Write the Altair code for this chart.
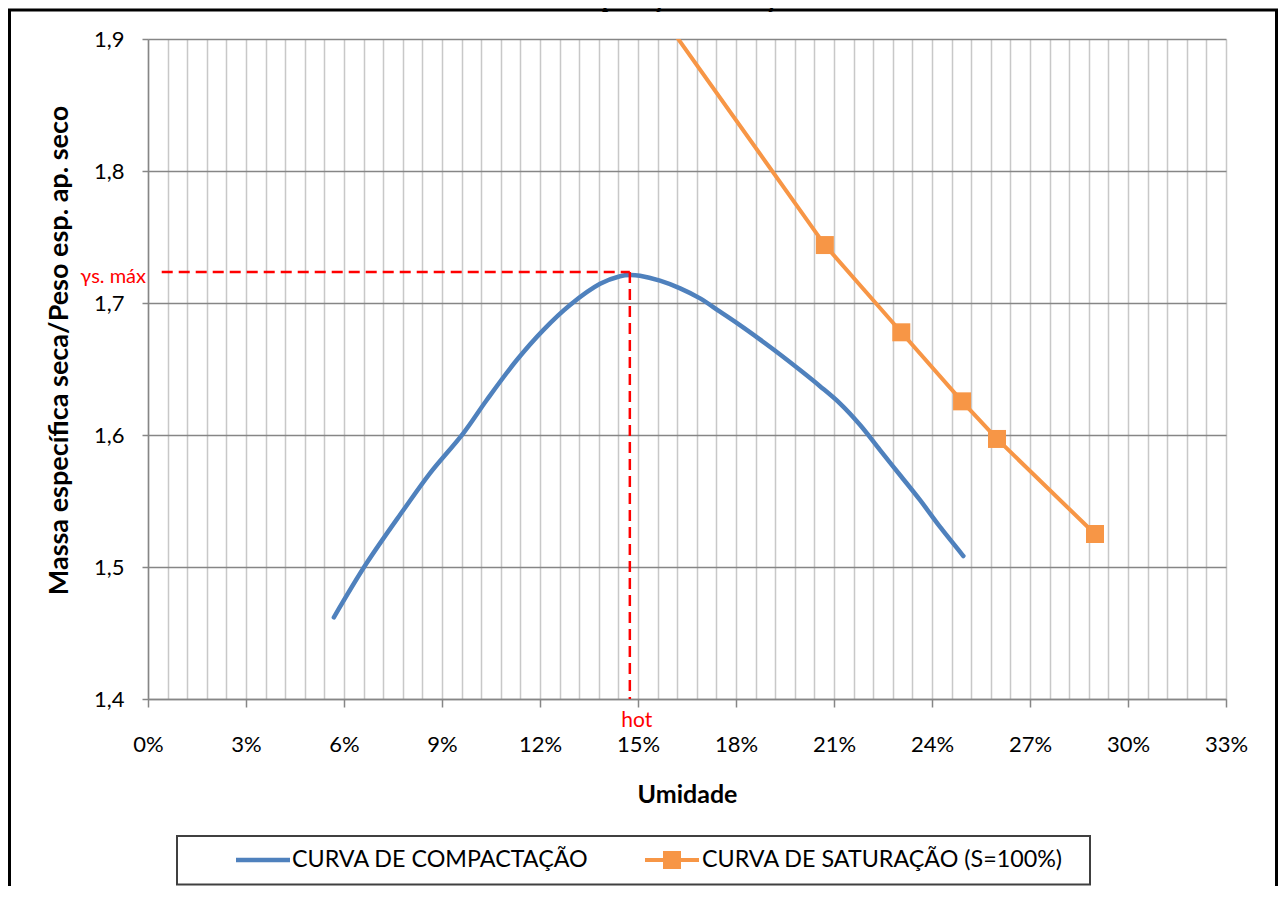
import altair as alt
import pandas as pd

# ---------------- data ----------------
# Curva de compactação: umidade (fração) e massa específica seca
comp_w = [0.0569, 0.0669, 0.0782, 0.0863, 0.0965, 0.1037, 0.1129, 0.1210,
          0.1292, 0.1384, 0.1445, 0.1476, 0.1506, 0.1567, 0.1629, 0.1690,
          0.1751, 0.1812, 0.1873, 0.1935, 0.1996, 0.2057, 0.2118, 0.2180,
          0.2241, 0.2302, 0.2363, 0.2424, 0.2496]
comp_g = [1.4619, 1.5028, 1.5432, 1.5710, 1.6013, 1.6265, 1.6568, 1.6795,
          1.6985, 1.7145, 1.7203, 1.7212, 1.7206, 1.7169, 1.7111, 1.7035,
          1.6934, 1.6832, 1.6724, 1.6610, 1.6492, 1.6370, 1.6240, 1.6076,
          1.5886, 1.5697, 1.5508, 1.5305, 1.5083]

# Curva de saturação (S=100%) - first point lies above the plotted range
sat_w = [0.135, 0.2072, 0.2306, 0.2492, 0.2599, 0.2899]
sat_g = [1.995, 1.7439, 1.6778, 1.6255, 1.5970, 1.5250]

# Ponto ótimo
hot = [0.1475]
ys_max = [1.7235]
ys_line_start = [0.0042]

x_grid_vals = [round(i * 0.006, 3) for i in range(56)]
y_tick_vals = [1.4, 1.5, 1.6, 1.7, 1.8, 1.9]

title_text = "Gráfico 13 – Curva de compactação e saturação - Ponto 2"
legend_labels = ["CURVA DE COMPACTAÇÃO", "CURVA DE SATURAÇÃO (S=100%)"]

BLUE = "#4F81BD"
ORANGE = "#F79646"
RED = "#FF0000"
FONT = "Lato"

comp_df = pd.DataFrame({"w": comp_w, "g": comp_g})
sat_df = pd.DataFrame({"w": sat_w, "g": sat_g})
opt_df = pd.DataFrame({"w0": ys_line_start, "w": hot, "g": ys_max, "gmin": [1.4]})
one = pd.DataFrame({"a": [0]})

x_scale = alt.Scale(domain=[0, 0.33], nice=False, zero=False)
y_scale = alt.Scale(domain=[1.4, 1.9], nice=False, zero=False)

major = "abs(round(datum.value * 1000) % 30) < 0.5"

x_axis = alt.Axis(
    values=x_grid_vals,
    tickCount=len(x_grid_vals) + 10,
    labelExpr=f"{major} ? format(datum.value, '.0%') : ''",
    labelOverlap=False, labelFlush=False,
    grid=True, gridColor="#c8c8c8", gridWidth=1.5,
    domainColor="#868686", domainWidth=1.5,
    tickColor="#868686", tickWidth=1.5, tickSize=8,
    tickOpacity={"condition": {"test": major, "value": 1}, "value": 0},
    labelFont=FONT, labelFontSize=22, labelColor="#000000", labelPadding=27,
    title="Umidade", titleFont=FONT, titleFontSize=25, titleFontWeight="bold",
    titleColor="#000000", titlePadding=27,
)
y_axis = alt.Axis(
    values=y_tick_vals,
    tickCount=len(y_tick_vals) + 2,
    labelExpr="replace(format(datum.value, '.1f'), '.', ',')",
    labelFlush=False,
    grid=True, gridColor="#868686", gridWidth=1.5,
    domainColor="#868686", domainWidth=1.5,
    tickColor="#868686", tickWidth=1.5, tickSize=6,
    labelFont=FONT, labelFontSize=22, labelColor="#000000", labelPadding=18,
    title="Massa específica seca/Peso esp. ap. seco", titleFont=FONT,
    titleFontSize=27, titleFontWeight="bold", titleColor="#000000",
    titlePadding=20, titleY=311,
)

comp_line = alt.Chart(comp_df).mark_line(
    color=BLUE, strokeWidth=4.5, interpolate="catmull-rom", strokeCap="round"
).encode(
    x=alt.X("w:Q", scale=x_scale, axis=x_axis),
    y=alt.Y("g:Q", scale=y_scale, axis=y_axis),
)

sat_line = alt.Chart(sat_df).mark_line(color=ORANGE, strokeWidth=4, clip=True).encode(
    x=alt.X("w:Q", scale=x_scale), y=alt.Y("g:Q", scale=y_scale)
)
sat_pts = alt.Chart(sat_df).mark_point(
    shape="square", size=324, filled=True, color=ORANGE, opacity=1, clip=True
).encode(x=alt.X("w:Q", scale=x_scale), y=alt.Y("g:Q", scale=y_scale))

h_dash = alt.Chart(opt_df).mark_rule(color=RED, strokeWidth=2.5, strokeDash=[11, 6]).encode(
    x=alt.X("w0:Q", scale=x_scale), x2="w:Q", y=alt.Y("g:Q", scale=y_scale)
)
v_dash = alt.Chart(opt_df).mark_rule(color=RED, strokeWidth=2.5, strokeDash=[11, 6]).encode(
    x=alt.X("w:Q", scale=x_scale), y=alt.Y("g:Q", scale=y_scale), y2="gmin:Q"
)

ys_label = alt.Chart(opt_df).mark_text(
    text="γs. máx", color=RED, font=FONT, fontSize=20, align="right",
    baseline="alphabetic", dy=11
).encode(x=alt.value(-2), y=alt.Y("g:Q", scale=y_scale))

hot_label = alt.Chart(opt_df).mark_text(
    text="hot", color=RED, font=FONT, fontSize=21, align="center",
    baseline="alphabetic", dx=7, dy=28
).encode(x=alt.X("w:Q", scale=x_scale), y=alt.Y("gmin:Q", scale=y_scale))

# ---------------- legend (manual) ----------------
leg_box = alt.Chart(one).mark_rect(fill="white", stroke="#404040", strokeWidth=2).encode(
    x=alt.value(29), x2=alt.value(942), y=alt.value(797), y2=alt.value(845.5)
)
leg_blue = alt.Chart(one).mark_rule(color=BLUE, strokeWidth=4.5).encode(
    x=alt.value(88), x2=alt.value(142), y=alt.value(821)
)
leg_orange = alt.Chart(one).mark_rule(color=ORANGE, strokeWidth=4).encode(
    x=alt.value(497), x2=alt.value(551), y=alt.value(821)
)
leg_sq = alt.Chart(one).mark_point(
    shape="square", size=324, filled=True, color=ORANGE, opacity=1
).encode(x=alt.value(524), y=alt.value(821))
leg_t1 = alt.Chart(one).mark_text(
    text=legend_labels[0], font=FONT, fontSize=23.3, align="left", baseline="middle", color="#000000"
).encode(x=alt.value(144), y=alt.value(821))
leg_t2 = alt.Chart(one).mark_text(
    text=legend_labels[1], font=FONT, fontSize=23.3, align="left", baseline="middle", color="#000000"
).encode(x=alt.value(554), y=alt.value(821))

# ---------------- outer frame & (cut) title ----------------
frame = alt.Chart(one).mark_rect(
    fill="white", fillOpacity=0, stroke="black", strokeWidth=3
).encode(
    x=alt.value(-138.5), x2=alt.value(1128.5), y=alt.value(-29), y2=alt.value(870)
)
title_mark = alt.Chart(one).mark_text(
    text=title_text, font="Liberation Serif", fontSize=22, fontWeight="bold",
    align="center", baseline="alphabetic", color="#000000"
).encode(x=alt.value(470), y=alt.value(-32))

chart = alt.layer(
    comp_line, sat_line, sat_pts, h_dash, v_dash, ys_label, hot_label,
    leg_box, leg_blue, leg_orange, leg_sq, leg_t1, leg_t2,
    frame, title_mark,
).properties(
    width=1078, height=660,
    padding={"left": 140, "top": 31, "right": 52, "bottom": 187},
    autosize=alt.AutoSizeParams(type="none"),
    background="white",
).configure_view(stroke=None)

chart.save("out.html", embed_options={"renderer": "svg", "actions": False})
